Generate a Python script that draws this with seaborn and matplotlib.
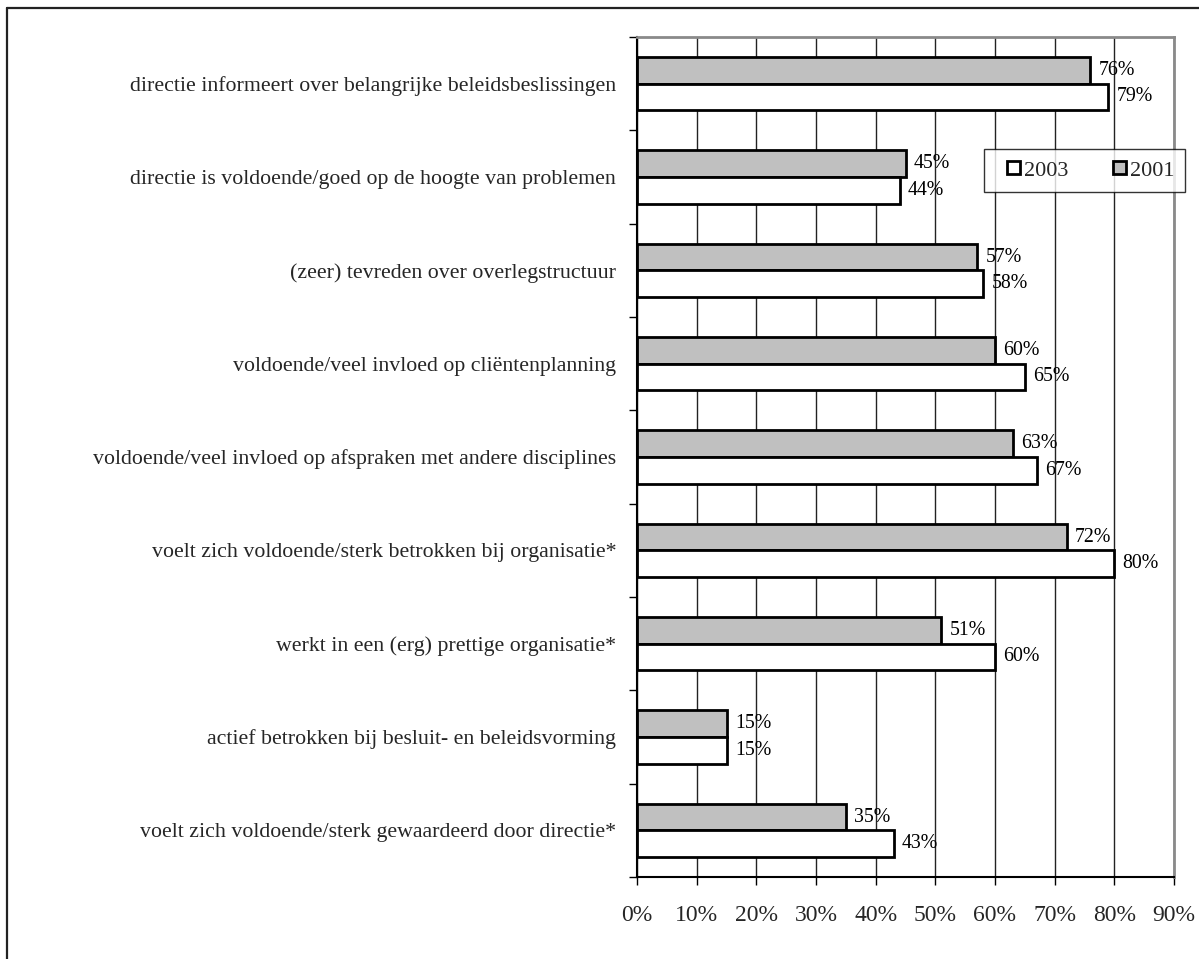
import matplotlib
matplotlib.use("Agg")
import matplotlib.pyplot as plt
from matplotlib.lines import Line2D
from matplotlib.patches import Patch, Rectangle
from matplotlib.legend_handler import HandlerPatch
from matplotlib.ticker import FixedLocator, PercentFormatter
import seaborn as sns
import pandas as pd

statements = [
    "directie informeert over belangrijke beleidsbeslissingen",
    "directie is voldoende/goed op de hoogte van problemen",
    "(zeer) tevreden over overlegstructuur",
    "voldoende/veel invloed op cliëntenplanning",
    "voldoende/veel invloed op afspraken met andere disciplines",
    "voelt zich voldoende/sterk betrokken bij organisatie*",
    "werkt in een (erg) prettige organisatie*",
    "actief betrokken bij besluit- en beleidsvorming",
    "voelt zich voldoende/sterk gewaardeerd door directie*",
]
pct_2001 = [76, 45, 57, 60, 63, 72, 51, 15, 35]
pct_2003 = [79, 44, 58, 65, 67, 80, 60, 15, 43]
years = ["2001", "2003"]
x_ticks = list(range(0, 91, 10))

df = pd.DataFrame({
    "stelling": statements * 2,
    "jaar": ["2001"] * len(statements) + ["2003"] * len(statements),
    "pct": pct_2001 + pct_2003,
})

sns.set_theme(style="white")
plt.rcParams["font.family"] = ["Liberation Serif", "DejaVu Serif"]

fig = plt.figure(figsize=(11.99, 9.59), dpi=100)
ax = fig.add_axes([637 / 1199, 1 - 877 / 959, (1174 - 637) / 1199, (877 - 37) / 959])

colors = {"2001": "#c0c0c0", "2003": "#ffffff"}
sns.barplot(
    data=df, y="stelling", x="pct", hue="jaar", hue_order=years,
    order=statements, palette=colors, orient="h", width=0.57, gap=0,
    edgecolor="black", linewidth=2.0, ax=ax, legend=False, zorder=3,
)

ax.set_xlim(0, 90)
ax.set_ylim(len(statements) - 0.5, -0.5)
ax.xaxis.set_major_locator(FixedLocator(x_ticks))
ax.xaxis.set_major_formatter(PercentFormatter(decimals=0))
ax.grid(axis="x", color="#222222", linewidth=1.0, zorder=0)
ax.grid(axis="y", visible=False)
ax.set_axisbelow(True)
ax.set_xlabel("")
ax.set_ylabel("")

# value labels next to each bar
for cont in ax.containers:
    ax.bar_label(cont, labels=[f"{int(round(v))}%" for v in cont.datavalues],
                 padding=6, fontsize=14.3, color="black")

# category boundaries get the tick marks, labels stay centred
ax.yaxis.set_minor_locator(FixedLocator([i - 0.5 for i in range(len(statements) + 1)]))
ax.tick_params(axis="y", which="major", length=0, pad=15, labelsize=15.75)
ax.tick_params(axis="y", which="minor", length=6, width=1.0, color="black", left=True)
ax.tick_params(axis="x", which="major", length=6, width=1.0, color="black",
               bottom=True, pad=14, labelsize=17)

for side in ("left", "bottom"):
    ax.spines[side].set_color("black")
    ax.spines[side].set_linewidth(1.5)
for side in ("top", "right"):
    ax.spines[side].set_color("#8a8a8a")
    ax.spines[side].set_linewidth(2.0)


def square_at_right(legend, orig_handle, xdescent, ydescent, width, height, fontsize):
    side = 9.4
    return Rectangle((-xdescent + width - side, -ydescent + (height - side) / 2), side, side)


handles = [
    Patch(facecolor=colors["2003"], edgecolor="black", linewidth=2.0, label="2003"),
    Patch(facecolor=colors["2001"], edgecolor="black", linewidth=2.0, label="2001"),
]
leg = fig.legend(
    handles=handles, loc="upper left", bbox_to_anchor=(984 / 1199, 1 - 149 / 959),
    ncol=2, fontsize=16, frameon=True, fancybox=False, handlelength=1.1,
    handleheight=0.7, handletextpad=0.18, columnspacing=1.5, borderpad=0.5,
    borderaxespad=0,
    handler_map={Patch: HandlerPatch(patch_func=square_at_right)},
)
leg.get_frame().set_edgecolor("black")
leg.get_frame().set_linewidth(1.0)

# outer chart frame
fig.add_artist(Line2D([6.5 / 1199, 6.5 / 1199], [0, 1 - 8 / 959], color="#222222", linewidth=1.6))
fig.add_artist(Line2D([6.5 / 1199, 1], [1 - 8 / 959, 1 - 8 / 959], color="#222222", linewidth=1.6))

fig.savefig("out.png", dpi=100)
